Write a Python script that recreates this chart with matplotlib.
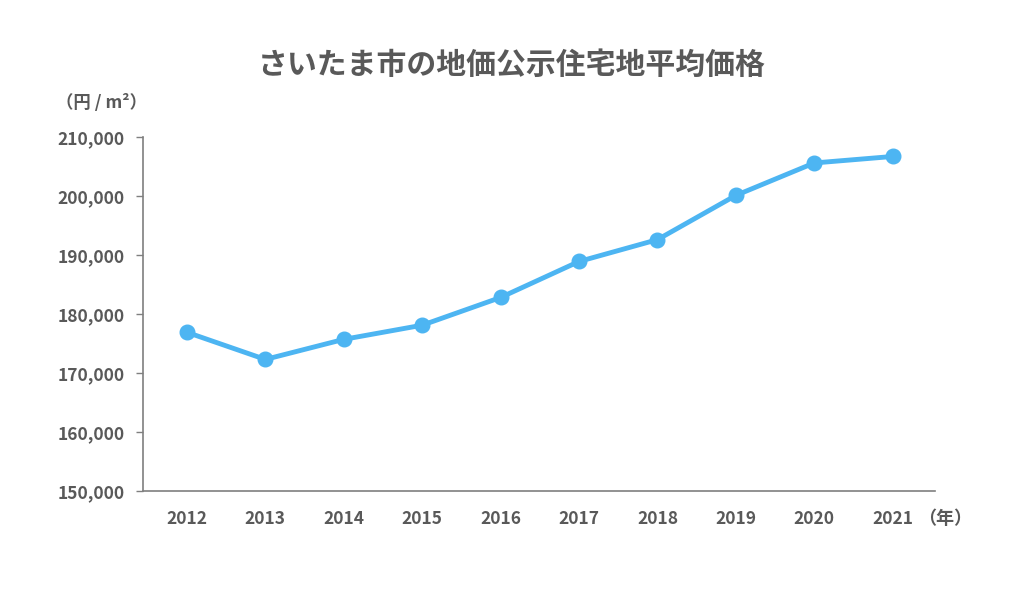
import matplotlib
matplotlib.use("Agg")
import matplotlib.pyplot as plt
from matplotlib.ticker import FuncFormatter

plt.rcParams['font.family'] = ['Noto Sans CJK JP', 'DejaVu Sans']

years = [2012, 2013, 2014, 2015, 2016, 2017, 2018, 2019, 2020, 2021]
prices = [176900, 172300, 175700, 178100, 182800, 188900, 192600, 200100, 205600, 206700]
yticks = [150000, 160000, 170000, 180000, 190000, 200000, 210000]
title = "さいたま市の地価公示住宅地平均価格"
y_unit = "（円 / m²）"
x_unit = "（年）"

text_color = "#595959"
line_color = "#4DB5F2"
spine_color = "#7f7f7f"

fig = plt.figure(figsize=(10.24, 5.9), dpi=100)
ax = fig.add_axes([143/1024, 1-491/590, (935-143)/1024, (491-137)/590])

ax.plot(years, prices, color=line_color, lw=3.5, marker='o', ms=10.5,
        markerfacecolor=line_color, markeredgecolor=line_color, zorder=3)

ax.set_xlim(2011.44, 2021.54)
ax.set_ylim(150000, 210000)
ax.set_yticks(yticks)
ax.set_xticks(years)
ax.yaxis.set_major_formatter(FuncFormatter(lambda v, p: f"{int(v):,}"))

for s in ['top', 'right']:
    ax.spines[s].set_visible(False)
for s in ['left', 'bottom']:
    ax.spines[s].set_color(spine_color)
    ax.spines[s].set_linewidth(1.2)

ax.tick_params(axis='y', direction='out', length=5, width=1, color=spine_color,
               labelsize=12.5, labelcolor=text_color, pad=8)
ax.tick_params(axis='x', length=0, labelsize=12.5, labelcolor=text_color, pad=14)
for lab in ax.get_xticklabels() + ax.get_yticklabels():
    lab.set_fontweight('bold')

fig.text(0.5, 1-65/590, title, ha='center', va='center', fontsize=21.5,
         fontweight='bold', color=text_color)
fig.text(101/1024, 1-103/590, y_unit, ha='center', va='center', fontsize=12.5,
         fontweight='bold', color=text_color)
fig.text(945/1024, 1-519/590, x_unit, ha='center', va='center', fontsize=13,
         fontweight='bold', color=text_color)

fig.savefig("out.png", dpi=100)
